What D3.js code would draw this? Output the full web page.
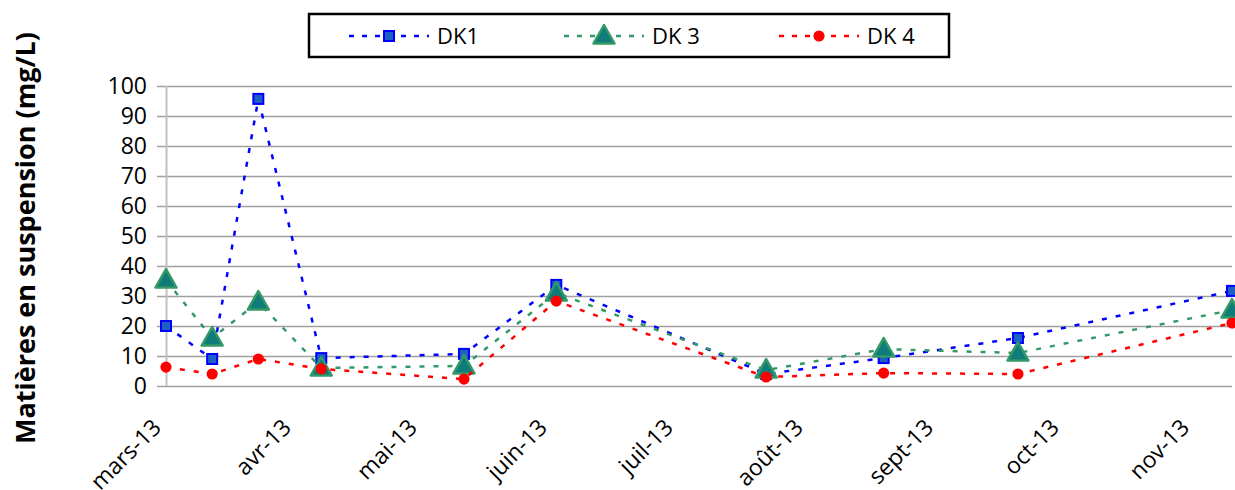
<!DOCTYPE html>
<html>
<head>
<meta charset="utf-8">
<script src="https://cdn.jsdelivr.net/npm/d3@7"></script>
<style>
  body { margin: 0; background: #fff; }
</style>
</head>
<body>
<svg id="chart" width="1235" height="490"></svg>
<script>

	// sampling dates
	var dates = ["2013-03-06", "2013-03-17", "2013-03-28", "2013-04-12", "2013-05-16",
		"2013-06-07", "2013-07-27", "2013-08-24", "2013-09-25", "2013-11-15"];

	var dk1 = [20, 9, 95.7, 9.3, 10.7, 33.7, 4, 9.3, 16, 31.7];
	var dk3 = [35.3, 16, 28, 6, 6.7, 31, 5.3, 12.3, 11, 25.3];
	var dk4 = [6.3, 4, 9, 5.7, 2.3, 28.3, 3, 4.3, 4, 21];

	var seriesNames = ["DK1", "DK 3", "DK 4"];
	var monthLabels = ["mars-13", "avr-13", "mai-13", "juin-13", "juil-13",
		"août-13", "sept-13", "oct-13", "nov-13"];
	var yTicks = [0, 10, 20, 30, 40, 50, 60, 70, 80, 90, 100];

	var styles = [
		{ color: "#0000ff", symbol: "square" },
		{ color: "#339966", symbol: "triangle" },
		{ color: "#ff0000", symbol: "circle" }
	];

	var font = "'Open Sans', 'Noto Sans', sans-serif";
	var parse = d3.timeParse("%Y-%m-%d");
	var svg = d3.select("#chart");

	var x = d3.scaleTime()
		.domain([parse(dates[0]), parse(dates[dates.length - 1])])
		.range([166, 1232]);
	var y = d3.scaleLinear().domain([0, 100]).range([386, 86]);

	// horizontal grid + y labels
	var yAxis = svg.append("g")
		.attr("transform", "translate(157,0)")
		.call(d3.axisLeft(y).tickValues(yTicks).tickSizeInner(-(1232 - 157)).tickSizeOuter(0).tickPadding(10));
	yAxis.select(".domain").remove();
	yAxis.selectAll("line").attr("stroke", "#a0a0a0").attr("stroke-width", 1.3);
	yAxis.selectAll("text")
		.attr("font-family", font)
		.attr("font-size", 23)
		.attr("fill", "#000");

	// vertical axis line
	svg.append("line")
		.attr("x1", 166.5).attr("x2", 166.5)
		.attr("y1", y(100)).attr("y2", y(0))
		.attr("stroke", "#c0c0c0")
		.attr("stroke-width", 2);

	// x labels
	var xTickValues = monthLabels.map(function(d, i) { return d3.timeMonth.offset(x.domain()[0], i); });
	var xAxis = svg.append("g")
		.attr("transform", "translate(0," + y(0) + ")")
		.call(d3.axisBottom(x).tickValues(xTickValues)
			.tickFormat(function(d, i) { return monthLabels[i]; })
			.tickSize(0));
	xAxis.select(".domain").remove();
	xAxis.selectAll("text")
		.attr("x", 0).attr("y", 0).attr("dy", 0)
		.attr("transform", "translate(-4,43) rotate(-45)")
		.style("text-anchor", "end")
		.attr("font-family", font)
		.attr("font-size", 23)
		.attr("fill", "#000");

	// y title
	svg.append("text")
		.attr("transform", "translate(35,238) rotate(-90)")
		.attr("text-anchor", "middle")
		.attr("font-family", font)
		.attr("font-weight", "bold")
		.attr("font-size", 27)
		.text("Matières en suspension (mg/L)");

	function drawMarker(g, symbol, color) {
		if (symbol == "square") {
			g.append("rect")
				.attr("x", -5).attr("y", -5).attr("width", 10).attr("height", 10)
				.attr("fill", "#1e5fc4").attr("stroke", "#0000ff").attr("stroke-width", 2);
		} else if (symbol == "triangle") {
			g.append("path")
				.attr("d", "M0,-11 L10.5,7.5 L-10.5,7.5 Z")
				.attr("fill", "#0f7b7b").attr("stroke", color).attr("stroke-width", 2.5)
				.attr("stroke-linejoin", "round");
		} else {
			g.append("circle").attr("r", 5.6).attr("fill", color);
		}
	}

	var allSeries = [dk1, dk3, dk4];
	var line = d3.line()
		.x(function(d, i) { return x(parse(dates[i])); })
		.y(function(d) { return y(d); });

	allSeries.forEach(function(values, s) {
		svg.append("path")
			.datum(values)
			.attr("d", line)
			.attr("fill", "none")
			.attr("stroke", styles[s].color)
			.attr("stroke-width", 2.5)
			.attr("stroke-dasharray", "5,9");

		svg.selectAll(".m" + s).data(values).enter()
			.append("g")
			.attr("class", "m" + s)
			.attr("transform", function(d, i) { return "translate(" + x(parse(dates[i])) + "," + y(d) + ")"; })
			.each(function() { drawMarker(d3.select(this), styles[s].symbol, styles[s].color); });
	});

	// legend
	svg.append("rect")
		.attr("x", 309).attr("y", 14).attr("width", 640).attr("height", 43)
		.attr("fill", "#fff").attr("stroke", "#000").attr("stroke-width", 2.5);

	var item = svg.selectAll(".legend").data(seriesNames).enter()
		.append("g")
		.attr("class", "legend")
		.attr("transform", function(d, i) { return "translate(" + (349 + i * 215) + ",36)"; });

	item.append("line")
		.attr("x1", 0).attr("x2", 80)
		.attr("stroke", function(d, i) { return styles[i].color; })
		.attr("stroke-width", 2.5)
		.attr("stroke-dasharray", "5,8");

	item.each(function(d, i) {
		var m = d3.select(this).append("g").attr("transform", "translate(40,0)");
		drawMarker(m, styles[i].symbol, styles[i].color);
	});

	item.append("text")
		.attr("x", 88)
		.attr("dy", "0.36em")
		.attr("font-family", font)
		.attr("font-size", 22)
		.text(function(d) { return d; });

</script>
</body>
</html>
